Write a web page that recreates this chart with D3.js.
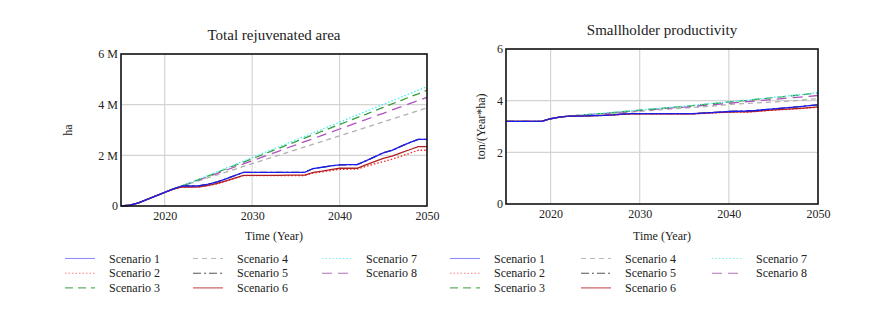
<!DOCTYPE html>
<html><head><meta charset="utf-8">
<script src="https://cdn.jsdelivr.net/npm/d3@7"></script>
<style>
body{margin:0;background:#fff;}
svg{display:block;}
text{font-family:"Liberation Serif","Times New Roman",serif;fill:#222;}
</style></head>
<body><svg id="c" width="874" height="320"></svg>
<script>
const years = [2015,2016,2017,2018,2019,2020,2021,2022,2023,2024,2025,2026,2027,2028,2029,2030,2031,2032,2033,2034,2035,2036,2037,2038,2039,2040,2041,2042,2043,2044,2045,2046,2047,2048,2049,2050];
const scenarioNames = ["Scenario 1","Scenario 2","Scenario 3","Scenario 4","Scenario 5","Scenario 6","Scenario 7","Scenario 8"];

// Total rejuvenated area (million ha)
const area1 = [0,0.03,0.12,0.26,0.40,0.54,0.68,0.79,0.79,0.80,0.86,0.95,1.07,1.20,1.33,1.33,1.33,1.33,1.33,1.33,1.33,1.33,1.48,1.53,1.58,1.62,1.63,1.63,1.78,1.94,2.10,2.20,2.35,2.50,2.63,2.63];
const area2 = [0,0.03,0.12,0.26,0.40,0.54,0.67,0.76,0.75,0.76,0.80,0.88,0.98,1.09,1.20,1.20,1.20,1.20,1.20,1.20,1.20,1.20,1.30,1.35,1.40,1.45,1.45,1.46,1.56,1.66,1.75,1.85,1.96,2.08,2.20,2.20];
const area3 = [0,0.03,0.12,0.26,0.40,0.54,0.68,0.79,0.93,1.06,1.19,1.33,1.46,1.60,1.73,1.87,2.00,2.14,2.27,2.41,2.54,2.68,2.81,2.95,3.08,3.22,3.35,3.49,3.62,3.76,3.89,4.03,4.16,4.30,4.43,4.57];
const area4 = [0,0.03,0.12,0.26,0.40,0.54,0.68,0.79,0.90,1.01,1.12,1.23,1.34,1.45,1.56,1.67,1.78,1.89,2.00,2.11,2.22,2.33,2.44,2.55,2.66,2.77,2.88,2.99,3.10,3.21,3.32,3.43,3.54,3.65,3.76,3.87];
const area5 = [0,0.03,0.12,0.26,0.40,0.54,0.68,0.79,0.79,0.80,0.86,0.95,1.07,1.20,1.33,1.33,1.33,1.33,1.33,1.33,1.33,1.33,1.48,1.53,1.58,1.62,1.63,1.63,1.78,1.94,2.10,2.20,2.35,2.50,2.63,2.63];
const area6 = [0,0.03,0.12,0.26,0.40,0.54,0.67,0.76,0.75,0.76,0.81,0.89,0.99,1.10,1.21,1.21,1.21,1.21,1.21,1.22,1.22,1.22,1.33,1.38,1.44,1.49,1.49,1.49,1.62,1.75,1.88,1.97,2.10,2.22,2.34,2.34];
const area7 = [0,0.03,0.12,0.26,0.40,0.54,0.68,0.79,0.93,1.07,1.21,1.35,1.49,1.63,1.77,1.91,2.05,2.19,2.33,2.47,2.61,2.75,2.89,3.03,3.17,3.31,3.45,3.59,3.73,3.87,4.01,4.15,4.29,4.43,4.57,4.72];
const area8 = [0,0.03,0.12,0.26,0.40,0.54,0.68,0.79,0.91,1.04,1.16,1.29,1.41,1.54,1.66,1.79,1.91,2.04,2.16,2.29,2.41,2.54,2.66,2.79,2.91,3.04,3.16,3.29,3.41,3.54,3.66,3.79,3.91,4.04,4.16,4.29];

// Smallholder productivity (ton/(Year*ha))
const prod1 = [3.2,3.2,3.2,3.2,3.2,3.3,3.36,3.4,3.4,3.41,3.42,3.43,3.45,3.48,3.5,3.5,3.5,3.5,3.5,3.5,3.5,3.5,3.52,3.54,3.56,3.58,3.59,3.6,3.62,3.65,3.68,3.71,3.74,3.77,3.81,3.84];
const prod2 = [3.2,3.2,3.2,3.2,3.2,3.3,3.36,3.4,3.4,3.41,3.42,3.43,3.45,3.47,3.49,3.49,3.49,3.49,3.49,3.49,3.49,3.49,3.51,3.52,3.54,3.55,3.56,3.56,3.58,3.61,3.63,3.65,3.67,3.69,3.72,3.74];
const prod3 = [3.2,3.2,3.2,3.2,3.2,3.3,3.36,3.4,3.43,3.46,3.49,3.51,3.54,3.57,3.60,3.63,3.66,3.69,3.72,3.75,3.78,3.81,3.85,3.88,3.91,3.95,3.98,4.01,4.05,4.08,4.12,4.15,4.19,4.22,4.26,4.30];
const prod4 = [3.2,3.2,3.2,3.2,3.2,3.3,3.36,3.4,3.42,3.45,3.47,3.49,3.51,3.54,3.56,3.59,3.61,3.64,3.66,3.69,3.71,3.74,3.76,3.79,3.82,3.85,3.87,3.89,3.91,3.93,3.95,3.97,3.99,4.02,4.05,4.08];
const prod5 = [3.2,3.2,3.2,3.2,3.2,3.3,3.36,3.4,3.4,3.41,3.42,3.43,3.45,3.48,3.5,3.5,3.5,3.5,3.5,3.5,3.5,3.5,3.52,3.54,3.56,3.58,3.59,3.6,3.62,3.65,3.68,3.71,3.74,3.77,3.81,3.84];
const prod6 = [3.2,3.2,3.2,3.2,3.2,3.3,3.36,3.4,3.4,3.41,3.42,3.43,3.45,3.47,3.49,3.49,3.49,3.49,3.49,3.49,3.49,3.49,3.51,3.53,3.55,3.56,3.57,3.57,3.59,3.62,3.64,3.66,3.68,3.70,3.73,3.76];
const prod7 = [3.2,3.2,3.2,3.2,3.2,3.3,3.36,3.4,3.43,3.46,3.49,3.52,3.55,3.58,3.61,3.64,3.67,3.70,3.73,3.76,3.79,3.82,3.86,3.89,3.92,3.96,3.99,4.02,4.06,4.09,4.13,4.16,4.20,4.23,4.27,4.32];
const prod8 = [3.2,3.2,3.2,3.2,3.2,3.3,3.36,3.4,3.43,3.45,3.48,3.50,3.53,3.56,3.59,3.62,3.64,3.67,3.70,3.73,3.75,3.78,3.81,3.84,3.87,3.90,3.93,3.96,3.99,4.02,4.05,4.08,4.11,4.14,4.17,4.20];

const xTicks = [2020,2030,2040,2050];
const areaTicks = [0,2,4,6];
const areaTickLabels = ["0","2 M","4 M","6 M"];
const prodTicks = [0,2,4,6];
const prodTickLabels = ["0","2","4","6"];

const styles = [
  {color:"#1c1cf0", dash:null,        lcolor:"#8c8cff"},
  {color:"#ff2020", dash:"1.5,2",     lcolor:"#ff8080"},
  {color:"#3a9a3a", dash:"8,5",       lcolor:"#60b060"},
  {color:"#b0b0b0", dash:"5,4",       lcolor:"#b8b8b8"},
  {color:"#333333", dash:"8,3,2,3",   lcolor:"#555555"},
  {color:"#b02020", dash:null,        lcolor:"#c05050"},
  {color:"#40f0f0", dash:"1.5,2",     lcolor:"#80f0f0"},
  {color:"#b050c0", dash:"10,6",      lcolor:"#b070b8"}
];
const drawOrder = [4,3,7,2,6,1,5,0];

const svg = d3.select("#c");

function chart(cfg){
  const g = svg.append("g");
  const x = d3.scaleLinear().domain([2015,2050]).range([cfg.x0,cfg.x1]);
  const y = d3.scaleLinear().domain([0,6]).range([cfg.y1,cfg.y0]);
  g.append("g").selectAll("line").data(xTicks.slice(0,3)).join("line")
    .attr("x1",d=>x(d)).attr("x2",d=>x(d)).attr("y1",cfg.y0).attr("y2",cfg.y1)
    .attr("stroke","#d4d4d4").attr("stroke-width",1.2);
  g.append("g").selectAll("line").data(cfg.yTicks.slice(1,3)).join("line")
    .attr("x1",cfg.x0).attr("x2",cfg.x1).attr("y1",d=>y(d)).attr("y2",d=>y(d))
    .attr("stroke","#d4d4d4").attr("stroke-width",1.2);
  const line = d3.line().x((d,i)=>x(years[i])).y(d=>y(d));
  drawOrder.forEach(k=>{
    const s = styles[k];
    g.append("path").datum(cfg.series[k]).attr("d",line)
      .attr("fill","none").attr("stroke",s.color).attr("stroke-width",1.3)
      .attr("stroke-dasharray",s.dash);
  });
  g.append("rect").attr("x",cfg.x0).attr("y",cfg.y0).attr("width",cfg.x1-cfg.x0).attr("height",cfg.y1-cfg.y0)
    .attr("fill","none").attr("stroke","#111").attr("stroke-width",1.6);
  const xa = g.append("g").attr("transform",`translate(0,${cfg.y1})`)
    .call(d3.axisBottom(x).tickValues(xTicks).tickSize(0).tickPadding(5).tickFormat(d3.format("d")));
  xa.select(".domain").remove();
  xa.selectAll("text").attr("font-size",12).attr("font-family","Liberation Serif").attr("fill","#222");
  const ya = g.append("g").attr("transform",`translate(${cfg.x0},0)`)
    .call(d3.axisLeft(y).tickValues(cfg.yTicks).tickSize(0).tickPadding(3).tickFormat((d,i)=>cfg.yLabels[i]));
  ya.select(".domain").remove();
  ya.selectAll("text").attr("font-size",12).attr("font-family","Liberation Serif").attr("fill","#222");
  g.append("text").attr("x",(cfg.x0+cfg.x1)/2).attr("y",cfg.y0-14).attr("text-anchor","middle")
    .attr("font-size",15).text(cfg.title);
  g.append("text").attr("x",(cfg.x0+cfg.x1)/2).attr("y",240).attr("text-anchor","middle")
    .attr("font-size",12).text("Time (Year)");
  g.append("text").attr("transform",`translate(${cfg.ylabX},${(cfg.y0+cfg.y1)/2}) rotate(-90)`)
    .attr("text-anchor","middle").attr("font-size",12).text(cfg.ylab);
  scenarioNames.forEach((n,k)=>{
    const col = Math.floor(k/3), row = k%3;
    const lx = cfg.legX[col], ly = 258.5 + row*14.7;
    const s = styles[k];
    g.append("line").attr("x1",lx).attr("x2",lx+30).attr("y1",ly).attr("y2",ly)
      .attr("stroke",s.lcolor).attr("stroke-width",1.1).attr("stroke-dasharray",s.dash);
    g.append("text").attr("x",lx+44).attr("y",ly+4).attr("font-size",12).text(n);
  });
}

chart({x0:121,x1:427,y0:54,y1:206,title:"Total rejuvenated area",ylab:"ha",ylabX:72,
  yTicks:areaTicks,yLabels:areaTickLabels,
  series:[area1,area2,area3,area4,area5,area6,area7,area8],legX:[65,193,322]});
chart({x0:506,x1:818,y0:49,y1:204,title:"Smallholder productivity",ylab:"ton/(Year*ha)",ylabX:485,
  yTicks:prodTicks,yLabels:prodTickLabels,
  series:[prod1,prod2,prod3,prod4,prod5,prod6,prod7,prod8],legX:[450,581,712]});
</script></body></html>
